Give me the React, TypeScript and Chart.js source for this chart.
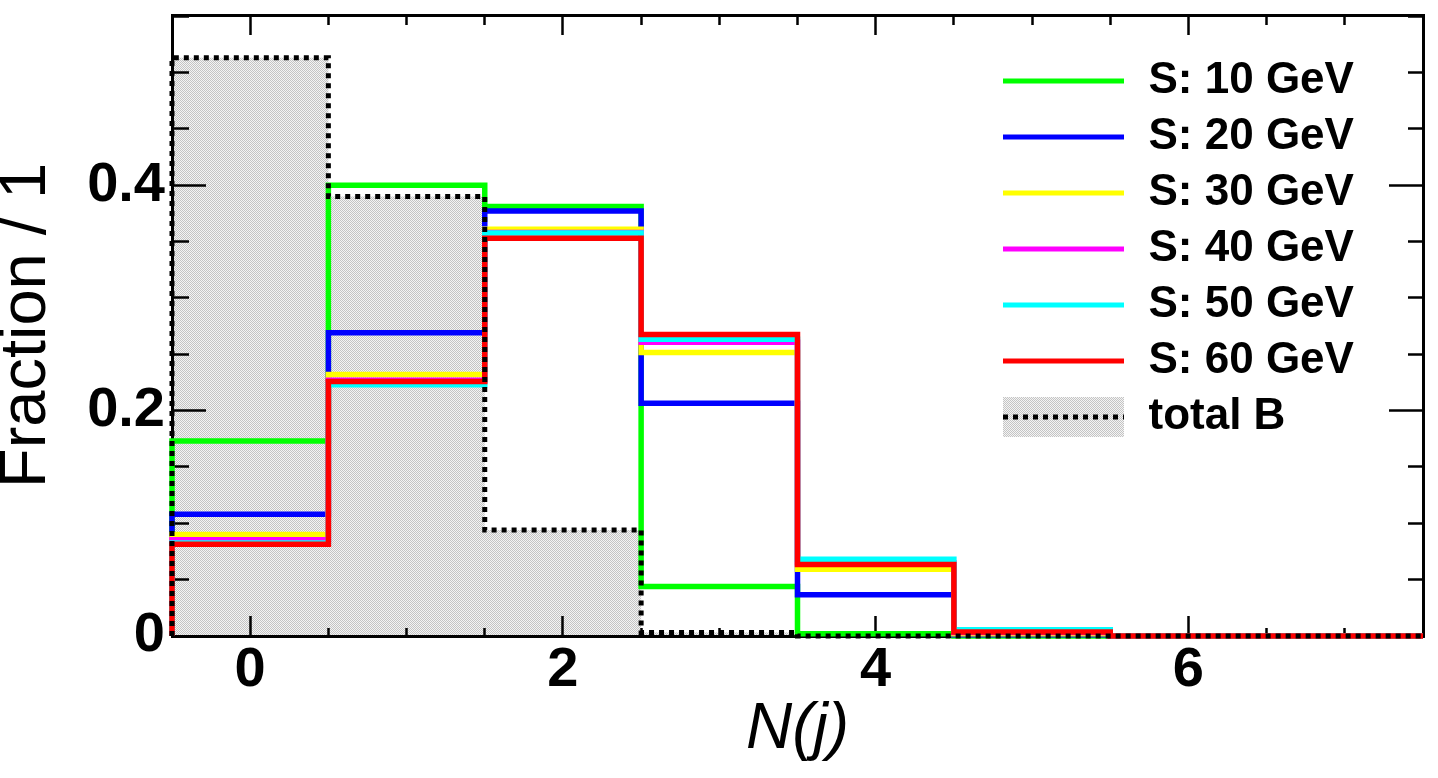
import React, { useEffect, useRef } from 'react';
import { Chart, registerables } from 'chart.js';

Chart.register(...registerables);

// ---------------- data ----------------
const binCenters = [0, 1, 2, 3, 4, 5, 6, 7];
const xMajorTicks = [0, 2, 4, 6];
const xTickLabels = ['0', '2', '4', '6'];
const yMajorTicks = [0, 0.2, 0.4];
const yTickLabels = ['0', '0.2', '0.4'];

const seriesNames = ['S: 10 GeV', 'S: 20 GeV', 'S: 30 GeV', 'S: 40 GeV', 'S: 50 GeV', 'S: 60 GeV'];
const seriesColors = ['#00ff00', '#0000ff', '#ffff00', '#ff00ff', '#00ffff', '#ff0000'];
const s10 = [0.173, 0.4, 0.381, 0.044, 0.002, 0, 0, 0];
const s20 = [0.108, 0.269, 0.377, 0.2065, 0.0366, 0.001, 0, 0];
const s30 = [0.09, 0.232, 0.361, 0.2516, 0.0593, 0.002, 0, 0];
const s40 = [0.0855, 0.227, 0.358, 0.2607, 0.065, 0.003, 0, 0];
const s50 = [0.0825, 0.223, 0.3576, 0.2634, 0.0682, 0.0055, 0, 0];
const s60 = [0.0815, 0.2258, 0.353, 0.2676, 0.0635, 0.0035, 0, 0];
const backgroundName = 'total B';
const totalB = [0.513, 0.39, 0.094, 0.003, 0, 0, 0, 0];

const xLabel = 'N(j)';
const yLabel = 'Fraction / 1';

// ---------------- layout ----------------
const W = 1438;
const H = 778;
const FONT = "'Liberation Sans', Arial, Helvetica, sans-serif";
const LEG_X = 1000.5;
const LEG_Y = 59;
const LEG_PAD = 12;

function histPoints(values: number[]) {
  const pts: { x: number; y: number }[] = [{ x: binCenters[0] - 0.5, y: 0 }];
  values.forEach((v, i) => pts.push({ x: binCenters[i] - 0.5, y: v }));
  const last = binCenters[binCenters.length - 1] + 0.5;
  pts.push({ x: last, y: values[values.length - 1] });
  pts.push({ x: last, y: 0 });
  return pts;
}

function isMajor(v: number, majors: number[]) {
  return majors.some((m) => Math.abs(m - v) < 1e-6);
}
function labelFor(v: number, majors: number[], labels: string[]) {
  const i = majors.findIndex((m) => Math.abs(m - v) < 1e-6);
  return i >= 0 ? labels[i] : '';
}

function makePatternCanvas() {
  const c = document.createElement('canvas');
  c.width = 2;
  c.height = 2;
  const g = c.getContext('2d')!;
  g.fillStyle = '#f4f4f4';
  g.fillRect(0, 0, 2, 2);
  g.fillStyle = '#c4c4c4';
  g.fillRect(0, 0, 1, 1);
  g.fillRect(1, 1, 1, 1);
  return c;
}

function lineSample(color: string) {
  const c = document.createElement('canvas');
  c.width = 121;
  c.height = 6;
  const g = c.getContext('2d')!;
  g.fillStyle = color;
  g.fillRect(0, 0.5, 121, 5);
  return c;
}

function fillSample(pattern: CanvasPattern | string) {
  const c = document.createElement('canvas');
  c.width = 121;
  c.height = 40;
  const g = c.getContext('2d')!;
  g.fillStyle = pattern as any;
  g.fillRect(0, 0, 121, 40);
  g.fillStyle = '#000';
  for (let x = 0; x < 121; x += 10) g.fillRect(x, 17.5, 5, 5);
  return c;
}

function fixSize(prop: 'width' | 'height', size: number) {
  return (s: any) => {
    s[prop] = size;
    s.paddingTop = 0;
    s.paddingBottom = 0;
    s.paddingLeft = 0;
    s.paddingRight = 0;
  };
}

export default function App() {
  const ref = useRef<HTMLCanvasElement>(null);

  useEffect(() => {
    const canvas = ref.current!;
    const ctx = canvas.getContext('2d')!;
    const pattern = ctx.createPattern(makePatternCanvas(), 'repeat') || '#dcdcdc';

    const seriesValues = [s10, s20, s30, s40, s50, s60];
    const datasets: any[] = seriesValues.map((vals, i) => ({
      label: seriesNames[i],
      data: histPoints(vals),
      borderColor: seriesColors[i],
      backgroundColor: seriesColors[i],
      borderWidth: 5.5,
      stepped: 'before',
      pointRadius: 0,
      pointHoverRadius: 0,
      fill: false,
      clip: false,
      order: seriesValues.length - i,
    }));
    datasets.push({
      label: backgroundName,
      data: histPoints(totalB),
      borderColor: '#000',
      backgroundColor: pattern,
      borderWidth: 5,
      borderDash: [5, 5],
      borderCapStyle: 'butt',
      stepped: 'before',
      pointRadius: 0,
      pointHoverRadius: 0,
      fill: 'origin',
      clip: false,
      order: 0,
    });

    const legendItems = [
      ...seriesNames.map((n, i) => ({
        text: n,
        fillStyle: seriesColors[i],
        strokeStyle: seriesColors[i],
        lineWidth: 0,
        pointStyle: lineSample(seriesColors[i]),
        hidden: false,
        datasetIndex: i,
        fontColor: '#000',
      })),
      {
        text: backgroundName,
        fillStyle: '#dcdcdc',
        strokeStyle: '#000',
        lineWidth: 0,
        pointStyle: fillSample(pattern),
        hidden: false,
        datasetIndex: seriesNames.length,
        fontColor: '#000',
      },
    ];

    const tickFont = { family: FONT, size: 56, weight: 'bold' as const, lineHeight: 1.2 };
    const border = { display: true, color: '#000', width: 3 };

    const xTicksCommon = {
      stepSize: 0.5,
      autoSkip: false,
      includeBounds: false,
      maxRotation: 0,
      minRotation: 0,
    };
    const yTicksCommon = {
      stepSize: 0.05,
      autoSkip: false,
      includeBounds: false,
    };

    const legendMover = {
      id: 'legendMover',
      afterLayout(chart: any) {
        const lg = chart.legend;
        if (!lg) return;
        const w = lg.width;
        const h = lg.height;
        lg.left = LEG_X - LEG_PAD;
        lg.right = lg.left + w;
        lg.top = LEG_Y - LEG_PAD;
        lg.bottom = lg.top + h;
      },
    };

    const chart = new Chart(canvas, {
      type: 'line',
      data: { datasets },
      plugins: [legendMover],
      options: {
        animation: false,
        responsive: false,
        devicePixelRatio: 1,
        events: [],
        layout: { padding: 0 },
        scales: {
          x: {
            type: 'linear',
            position: 'bottom',
            min: -0.5,
            max: 7.5,
            afterFit: fixSize('height', 142),
            border,
            grid: {
              drawOnChartArea: false,
              drawTicks: true,
              tickLength: -20,
              tickColor: '#000',
              tickWidth: 2.5,
              tickBorderDash: (c: any) => (isMajor(c.tick.value, xMajorTicks) ? [] : [10, 1000]),
            },
            ticks: {
              ...xTicksCommon,
              padding: 21,
              color: '#000',
              font: tickFont,
              callback: (v: any) => labelFor(Number(v), xMajorTicks, xTickLabels),
            },
            title: {
              display: true,
              text: xLabel,
              color: '#000',
              font: { family: FONT, size: 64, style: 'italic', lineHeight: 1 },
              padding: { top: 0, bottom: 16 },
            },
          },
          x2: {
            type: 'linear',
            axis: 'x',
            position: 'top',
            min: -0.5,
            max: 7.5,
            afterFit: fixSize('height', 15),
            border,
            grid: {
              drawOnChartArea: false,
              drawTicks: true,
              tickLength: -20,
              tickColor: '#000',
              tickWidth: 2.5,
              tickBorderDash: (c: any) => (isMajor(c.tick.value, xMajorTicks) ? [] : [0, 10, 10, 1000]),
            },
            ticks: { ...xTicksCommon, padding: 0, font: { size: 1 }, callback: () => '' },
          },
          y: {
            type: 'linear',
            position: 'left',
            min: 0,
            max: 0.551,
            afterFit: fixSize('width', 172),
            border,
            grid: {
              drawOnChartArea: false,
              drawTicks: true,
              tickLength: -34,
              tickColor: '#000',
              tickWidth: 2.5,
              tickBorderDash: (c: any) => (isMajor(c.tick.value, yMajorTicks) ? [] : [0, 17, 17, 1000]),
            },
            ticks: {
              ...yTicksCommon,
              padding: 41,
              color: '#000',
              font: tickFont,
              callback: (v: any) => labelFor(Number(v), yMajorTicks, yTickLabels),
            },
            title: {
              display: true,
              text: yLabel,
              color: '#000',
              font: { family: FONT, size: 65, lineHeight: 1 },
              padding: { top: -5, bottom: 0 },
            },
          },
          y2: {
            type: 'linear',
            axis: 'y',
            position: 'right',
            min: 0,
            max: 0.551,
            afterFit: fixSize('width', 15),
            border,
            grid: {
              drawOnChartArea: false,
              drawTicks: true,
              tickLength: -34,
              tickColor: '#000',
              tickWidth: 2.5,
              tickBorderDash: (c: any) => (isMajor(c.tick.value, yMajorTicks) ? [] : [17, 1000]),
            },
            ticks: { ...yTicksCommon, padding: 0, font: { size: 1 }, callback: () => '' },
          },
        } as any,
        plugins: {
          filler: { propagate: false, drawTime: 'beforeDraw' },
          tooltip: { enabled: false },
          legend: {
            display: true,
            position: 'chartArea' as any,
            align: 'start',
            labels: {
              usePointStyle: true,
              pointStyleWidth: 126,
              padding: LEG_PAD,
              color: '#000',
              font: { family: FONT, size: 44, weight: 'bold' },
              generateLabels: () => legendItems as any,
            },
          },
        } as any,
      },
    });

    return () => chart.destroy();
  }, []);

  return (
    <div style={{ position: 'fixed', left: 0, top: 0, width: W, height: H, background: '#fff' }}>
      <canvas ref={ref} width={W} height={H} style={{ width: W, height: H, display: 'block' }} />
    </div>
  );
}
